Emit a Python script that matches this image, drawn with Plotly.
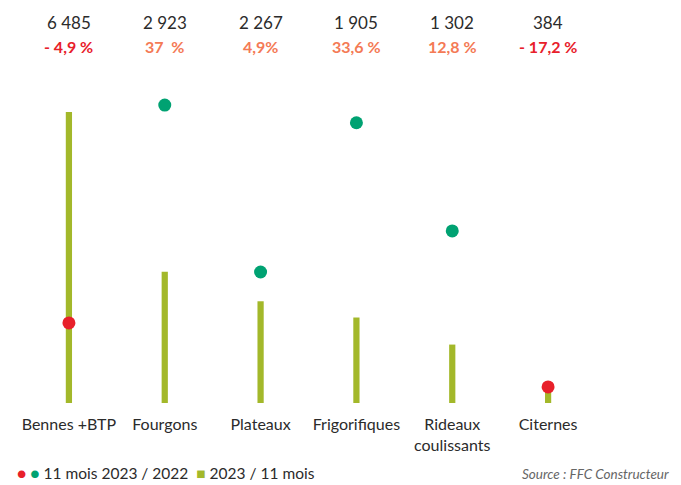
import plotly.graph_objects as go

categories = ["Bennes +BTP", "Fourgons", "Plateaux", "Frigorifiques", "Rideaux<br>coulissants", "Citernes"]
volumes = [6485, 2923, 2267, 1905, 1302, 384]
evolution = [-4.9, 37.0, 4.9, 33.6, 12.8, -17.2]
volume_labels = ["6 485", "2 923", "2 267", "1 905", "1 302", "384"]
evolution_labels = ["- 4,9 %", "37  %", "4,9%", "33,6 %", "12,8 %", "- 17,2 %"]

GREEN_BAR = "#A3B82A"
GREEN_DOT = "#00A272"
RED = "#E8202A"
ORANGE = "#F47A55"
FONT = "Lato, 'Noto Sans', sans-serif"

fig = go.Figure()

fig.add_trace(go.Bar(
    x=categories, y=volumes,
    marker_color=GREEN_BAR, marker_line_width=0,
    width=0.065, showlegend=False, hoverinfo="skip",
))

fig.add_trace(go.Scatter(
    x=categories, y=evolution, yaxis="y2", mode="markers",
    marker=dict(size=13, color=[RED if v < 0 else GREEN_DOT for v in evolution]),
    showlegend=False, hoverinfo="skip",
))

annotations = []
for cat, vl, el, ev in zip(categories, volume_labels, evolution_labels, evolution):
    annotations.append(dict(
        x=cat, xref="x", y=1.0, yref="paper", yshift=80, text=vl, showarrow=False,
        font=dict(size=17, color="#2B2B2B", family=FONT),
    ))
    annotations.append(dict(
        x=cat, xref="x", y=1.0, yref="paper", yshift=55, text="<b>%s</b>" % el, showarrow=False,
        font=dict(size=16, color=RED if ev < 0 else ORANGE, family=FONT),
    ))

annotations.append(dict(
    x=0, xref="paper", xshift=-6, y=0, yref="paper", yshift=-81, xanchor="left", showarrow=False,
    text=("<span style='color:%s'>●</span> <span style='color:%s'>●</span> 11 mois 2023 / 2022  "
          "<span style='color:%s'>■</span> 2023 / 11 mois") % (RED, GREEN_DOT, GREEN_BAR),
    font=dict(size=15.5, color="#2B2B2B", family=FONT),
))
annotations.append(dict(
    x=1, xref="paper", xshift=75, y=0, yref="paper", yshift=-81, xanchor="right", showarrow=False,
    text="<i>Source : FFC Constructeur</i>",
    font=dict(size=13.5, color="#666666", family=FONT),
))

fig.update_layout(
    width=681, height=485,
    margin=dict(l=13, r=93, t=82, b=90),
    paper_bgcolor="white", plot_bgcolor="white",
    font=dict(family=FONT, size=16, color="#2B2B2B"),
    xaxis=dict(showgrid=False, showline=False, zeroline=False, ticks="",
               ticklabelstandoff=10,
               tickfont=dict(size=16, color="#2B2B2B")),
    yaxis=dict(range=[0, 6975], visible=False, showgrid=False, zeroline=False),
    yaxis2=dict(range=[-20.3, 39.9], overlaying="y", visible=False, showgrid=False, zeroline=False),
    annotations=annotations,
)

fig.write_html("out.html")
